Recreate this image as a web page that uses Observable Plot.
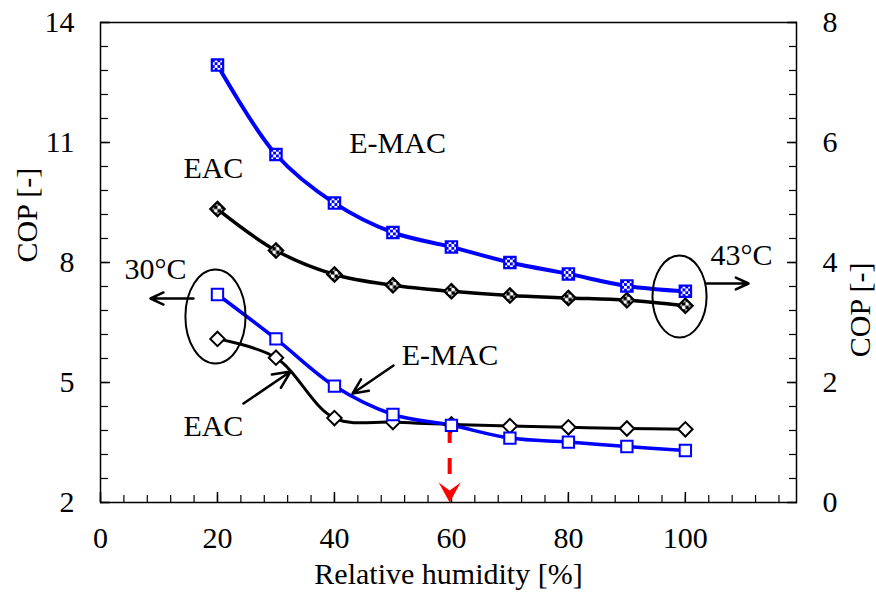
<!DOCTYPE html>
<html>
<head>
<meta charset="utf-8">
<script src="https://cdn.jsdelivr.net/npm/d3@7"></script>
<script src="https://cdn.jsdelivr.net/npm/@observablehq/plot@0.6"></script>
<style>
  html, body { margin: 0; padding: 0; background: #fff; }
  #chart { width: 876px; height: 592px; }
  #chart svg text { font-family: "Liberation Serif", "Times New Roman", serif; }
</style>
</head>
<body>
<div id="chart"></div>
<script>
// ---- data ----
const humidity = [20, 30, 40, 50, 60, 70, 80, 90, 100];
// 30°C series (left axis)
const emac30 = [7.2, 6.09, 4.91, 4.2, 3.93, 3.61, 3.51, 3.4, 3.3];
const eac30  = [6.09, 5.62, 4.11, 4.01, 3.95, 3.91, 3.88, 3.85, 3.83];
// 43°C series (right axis)
const emac43 = [7.29, 5.8, 4.99, 4.5, 4.26, 4.0, 3.81, 3.61, 3.52];
const eac43  = [4.89, 4.2, 3.8, 3.62, 3.52, 3.45, 3.41, 3.37, 3.28];

const xMajor = [0, 20, 40, 60, 80, 100];
const xMinor = [0,4,8,12,16,20,24,28,32,36,40,44,48,52,56,60,64,68,72,76,80,84,88,92,96,100,104,108,112,116];
const yLeftMajor = [2, 5, 8, 11, 14];
const yRightMajor = [0, 2, 4, 6, 8];
const yMinorRight = [0,0.4,0.8,1.2,1.6,2,2.4,2.8,3.2,3.6,4,4.4,4.8,5.2,5.6,6,6.4,6.8,7.2,7.6,8];

// right axis (0..8) shares the frame with left axis (2..14)
const r2l = v => 2 + 1.5 * v;

const labels = [
  {text: "E-MAC", x: 50.8, y: 10.975},
  {text: "EAC", x: 19.3, y: 10.35},
  {text: "30°C", x: 9.4, y: 7.84},
  {text: "43°C", x: 109.6, y: 8.175},
  {text: "E-MAC", x: 59.75, y: 5.675},
  {text: "EAC", x: 19.3, y: 3.9}
];
const ellipses = [
  {x: 19.66, y: 6.65, r: 47, ratio: 0.64},
  {x: 99.0, y: 7.15, r: 41, ratio: 0.66}
];
const arrows = [
  {x1: 15.9, y1: 7.1, x2: 8.55, y2: 7.1},
  {x1: 103.6, y1: 7.475, x2: 110.8, y2: 7.475},
  {x1: 24.45, y1: 4.475, x2: 32.5, y2: 5.275},
  {x1: 50.1, y1: 5.425, x2: 43.1, y2: 4.725}
];
const redArrow = {x: 59.7, y1: 3.875, y2: 2.45, tip: 2.0};

// ---- build rows ----
const rows = (vals, series, conv = v => v) => humidity.map((h, i) => ({h, v: conv(vals[i]), series}));
const dE30 = rows(emac30, "E-MAC 30");
const dA30 = rows(eac30, "EAC 30");
const dE43 = rows(emac43, "E-MAC 43", r2l);
const dA43 = rows(eac43, "EAC 43", r2l);

// custom symbols
function ellipseSymbol(ratio) {
  return {
    draw(ctx, size) {
      const ry = Math.sqrt(size / Math.PI);
      const rx = ry * ratio;
      const k = 0.5522847498;
      ctx.moveTo(rx, 0);
      ctx.bezierCurveTo(rx, ry * k, rx * k, ry, 0, ry);
      ctx.bezierCurveTo(-rx * k, ry, -rx, ry * k, -rx, 0);
      ctx.bezierCurveTo(-rx, -ry * k, -rx * k, -ry, 0, -ry);
      ctx.bezierCurveTo(rx * k, -ry, rx, -ry * k, rx, 0);
      ctx.closePath();
    }
  };
}
const headSymbol = {
  draw(ctx, size) {
    const s = Math.sqrt(size / Math.PI) / 10;
    ctx.moveTo(0, 0);
    ctx.lineTo(-11 * s, -20 * s);
    ctx.lineTo(0, -12 * s);
    ctx.lineTo(11 * s, -20 * s);
    ctx.closePath();
  }
};

const FONT = "Liberation Serif, Times New Roman, serif";
const FS = 30;

const lineOpts = (stroke, sw) => ({x: "h", y: "v", stroke, strokeWidth: sw, curve: "catmull-rom"});

const chart = Plot.plot({
  width: 876,
  height: 592,
  marginLeft: 100,
  marginRight: 80,
  marginTop: 22,
  marginBottom: 90,
  style: {fontFamily: FONT, fontSize: FS + "px", background: "#fff", color: "#000"},
  x: {domain: [0, 119], axis: null},
  y: {domain: [2, 14], axis: null},
  marks: [
    // axes ticks (inward)
    Plot.axisY(yLeftMajor, {anchor: "left", tickSize: -10, tickFormat: () => "", strokeWidth: 1.5}),
    Plot.axisY(yMinorRight.map(r2l), {anchor: "left", tickSize: -8, tickFormat: () => "", strokeWidth: 1.2}),
    Plot.axisY(yRightMajor.map(r2l), {anchor: "right", tickSize: -10, tickFormat: () => "", strokeWidth: 1.5}),
    Plot.axisY(yMinorRight.map(r2l), {anchor: "right", tickSize: -8, tickFormat: () => "", strokeWidth: 1.2}),
    Plot.axisX(xMajor, {anchor: "bottom", tickSize: -10, tickFormat: () => "", strokeWidth: 1.5}),
    Plot.axisX(xMinor, {anchor: "bottom", tickSize: -7, tickFormat: () => "", strokeWidth: 1.2}),
    // tick labels
    Plot.axisY(yLeftMajor, {anchor: "left", tickSize: 0, tickPadding: 26, fontSize: FS, fontFamily: FONT, label: null}),
    Plot.axisY(yRightMajor.map(r2l), {anchor: "right", tickSize: 0, tickPadding: 26, fontSize: FS, fontFamily: FONT, label: null,
      tickFormat: d => String(Math.round((d - 2) / 1.5))}),
    Plot.axisX(xMajor, {anchor: "bottom", tickSize: 0, tickPadding: 24, fontSize: FS, fontFamily: FONT, label: null}),
    // axis titles
    Plot.text(["Relative humidity [%]"], {frameAnchor: "bottom", dy: 72, lineAnchor: "middle", fontSize: FS, fontFamily: FONT}),
    Plot.text(["COP [-]"], {frameAnchor: "left", dx: -73, rotate: -90, lineAnchor: "middle", fontSize: FS, fontFamily: FONT}),
    Plot.text(["COP [-]"], {frameAnchor: "right", dx: 64, rotate: -90, lineAnchor: "middle", fontSize: FS, fontFamily: FONT}),
    Plot.frame({stroke: "#000", strokeWidth: 1.5}),
    // red dashed arrow
    Plot.ruleX([redArrow], {x: "x", y1: "y1", y2: "y2", stroke: "#ff0000", strokeWidth: 4, strokeDasharray: "16,15"}),
    Plot.dot([redArrow], {x: "x", y: "tip", r: 10, symbol: headSymbol, fill: "#ff0000", stroke: "none"}),
    // lines
    Plot.line(dA43, lineOpts("#000", 3.5)),
    Plot.line(dE43, lineOpts("#0000ff", 4)),
    Plot.line(dA30, lineOpts("#000", 3)),
    Plot.line(dE30, lineOpts("#0000ff", 3.5)),
    // markers
    Plot.dot(dA43, {x: "h", y: "v", symbol: "diamond2", r: 6.5, fill: "url(#chkBlack)", stroke: "#000", strokeWidth: 2.2}),
    Plot.dot(dE43, {x: "h", y: "v", symbol: "square", r: 6.4, fill: "url(#chkBlue)", stroke: "#0000ff", strokeWidth: 2.2}),
    Plot.dot(dA30, {x: "h", y: "v", symbol: "diamond2", r: 6.5, fill: "#fff", stroke: "#000", strokeWidth: 2}),
    Plot.dot(dE30, {x: "h", y: "v", symbol: "square", r: 6.4, fill: "#fff", stroke: "#0000ff", strokeWidth: 2}),
    // ellipses
    ...ellipses.map(e => Plot.dot([e], {x: "x", y: "y", r: e.r, symbol: ellipseSymbol(e.ratio), fill: "none", stroke: "#000", strokeWidth: 2})),
    // arrows
    Plot.arrow(arrows, {x1: "x1", y1: "y1", x2: "x2", y2: "y2", stroke: "#000", strokeWidth: 2.5, headLength: 13, headAngle: 50}),
    // annotation labels
    Plot.text(labels, {x: "x", y: "y", text: "text", fontSize: FS, fontFamily: FONT, lineAnchor: "middle", fill: "#000"})
  ]
});

// checkerboard patterns for 43°C markers
const svg = chart.tagName.toLowerCase() === "svg" ? chart : chart.querySelector("svg");
const ns = "http://www.w3.org/2000/svg";
const defs = document.createElementNS(ns, "defs");
function makePattern(id, color) {
  const p = document.createElementNS(ns, "pattern");
  p.setAttribute("id", id);
  p.setAttribute("patternUnits", "objectBoundingBox");
  p.setAttribute("patternContentUnits", "objectBoundingBox");
  p.setAttribute("width", "1");
  p.setAttribute("height", "1");
  const bg = document.createElementNS(ns, "rect");
  bg.setAttribute("width", "1"); bg.setAttribute("height", "1"); bg.setAttribute("fill", "#fff");
  p.appendChild(bg);
  const n = 4;
  for (let i = 0; i < n; i++) for (let j = 0; j < n; j++) {
    if ((i + j) % 2 === 0) {
      const r = document.createElementNS(ns, "rect");
      r.setAttribute("x", i / n); r.setAttribute("y", j / n);
      r.setAttribute("width", 1 / n); r.setAttribute("height", 1 / n);
      r.setAttribute("fill", color);
      p.appendChild(r);
    }
  }
  defs.appendChild(p);
}
makePattern("chkBlue", "#0000ff");
makePattern("chkBlack", "#000");
svg.insertBefore(defs, svg.firstChild);

document.getElementById("chart").appendChild(chart);
</script>
</body>
</html>
